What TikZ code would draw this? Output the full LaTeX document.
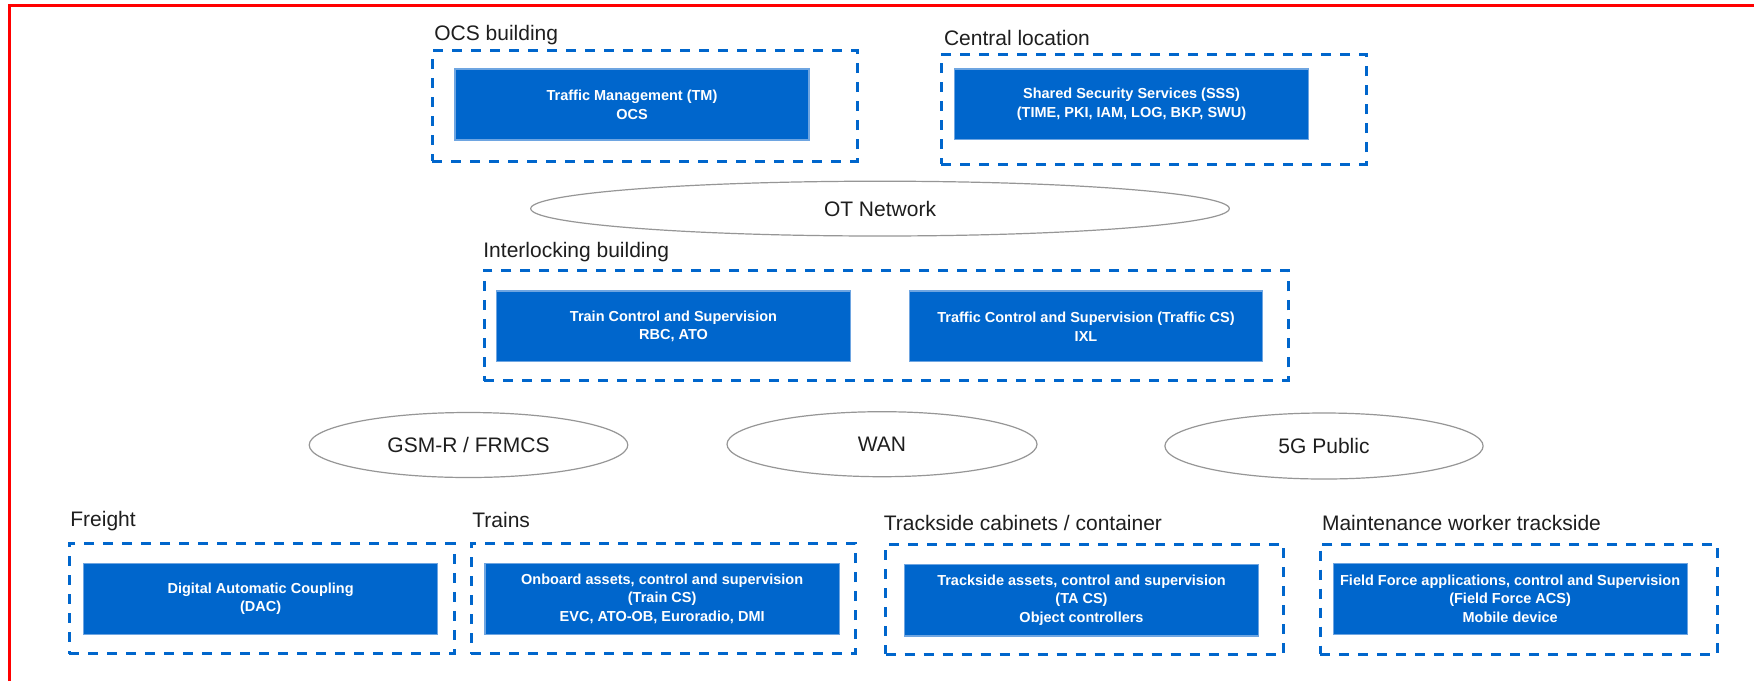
\documentclass[tikz,border=0pt]{standalone}
\usepackage{fontspec}
\setmainfont{Liberation Sans}
\usetikzlibrary{shapes.geometric}
\definecolor{boxblue}{RGB}{0,102,204}
\definecolor{boxedge}{RGB}{110,165,225}
\definecolor{zoneblue}{RGB}{0,102,204}
\definecolor{ellgray}{RGB}{150,150,150}
\definecolor{lbltext}{RGB}{30,30,30}
\begin{document}
\begin{tikzpicture}[x=0.5pt,y=-0.5pt,
  zone/.style={draw=zoneblue, line width=1.5pt, dash pattern=on 5pt off 4.5pt, inner sep=0pt, outer sep=0pt},
  bluebox/.style={fill=boxblue, draw=boxedge, line width=0.6pt, text=white, align=center, inner sep=0pt,
    font=\bfseries\fontsize{7.25}{9.4}\selectfont},
  lbl/.style={anchor=base west, inner sep=0pt, text=lbltext, font=\fontsize{10.5}{12.6}\selectfont},
  net/.style={ellipse, draw=ellgray, line width=0.6pt, fill=white, inner sep=0pt, text=lbltext,
    font=\fontsize{10.5}{12.6}\selectfont}]
\useasboundingbox (0,0) rectangle (1754,681);
\fill[white] (0,0) rectangle (1754,681);
\draw[red, line width=1.3pt] (9.7,681) -- (9.7,5.5) -- (1754,5.5);

% OCS building
\node[zone, minimum width=212.5pt, minimum height=55.25pt] (ocs) at (644.5,105.75) {};
\node[bluebox, minimum width=177pt, minimum height=35.5pt] (tm) at (632,104.5) {Traffic Management (TM)\\OCS};
\node[lbl] (ocsl) at (434,40) {OCS building};

% Central location
\node[zone, minimum width=212.5pt, minimum height=55pt] (central) at (1153.5,109) {};
\node[bluebox, minimum width=177pt, minimum height=35.2pt] (sss) at (1131.5,104.2) {Shared Security Services (SSS)\\(TIME, PKI, IAM, LOG, BKP, SWU)};
\node[lbl] (centrall) at (943.6,45.7) {Central location};

% OT network
\node[net, minimum width=349.3pt, minimum height=27.4pt] (ot) at (880,208.6) {OT Network};

% Interlocking building
\node[zone, minimum width=401.8pt, minimum height=55.35pt] (ixlzone) at (886.2,325.35) {};
\node[bluebox, minimum width=177.1pt, minimum height=35.35pt] (tcs) at (673.5,326.35) {Train Control and Supervision\\RBC, ATO};
\node[bluebox, minimum width=176.8pt, minimum height=35.35pt] (trcs) at (1086,326.35) {Traffic Control and Supervision (Traffic CS)\\IXL};
\node[lbl] (ixll) at (483,257) {Interlocking building};

% Networks
\node[net, minimum width=159.3pt, minimum height=32.5pt] (gsm) at (468.5,445) {GSM-R / FRMCS};
\node[net, minimum width=155pt, minimum height=32.5pt] (wan) at (882,444.2) {WAN};
\node[net, minimum width=159.1pt, minimum height=33pt] (g5) at (1324,446) {5G Public};

% Freight
\node[zone, minimum width=192.5pt, minimum height=55.1pt] (freight) at (261.5,598.4) {};
\node[bluebox, minimum width=176.8pt, minimum height=35.5pt] (dac) at (260.6,598.8) {Digital Automatic Coupling\\(DAC)};
\node[lbl] (freightl) at (70,526.7) {Freight};

% Trains
\node[zone, minimum width=192.25pt, minimum height=55.1pt] (trains) at (663.25,598.4) {};
\node[bluebox, minimum width=177.15pt, minimum height=35.5pt] (traincs) at (662.15,598.8) {Onboard assets, control and supervision\\(Train CS)\\EVC, ATO-OB, Euroradio, DMI};
\node[lbl] (trainsl) at (472,527) {Trains};

% Trackside
\node[zone, minimum width=198.95pt, minimum height=55pt] (trackside) at (1084.65,599) {};
\node[bluebox, minimum width=176.7pt, minimum height=35.85pt] (tacs) at (1081.5,600.15) {Trackside assets, control and supervision\\(TA CS)\\Object controllers};
\node[lbl] (tracksidel) at (883.4,530) {Trackside cabinets / container};

% Maintenance
\node[zone, minimum width=198.85pt, minimum height=55pt] (maint) at (1518.85,599) {};
\node[bluebox, minimum width=177pt, minimum height=35.5pt] (ff) at (1510.1,598.8) {Field Force applications, control and Supervision\\(Field Force ACS)\\Mobile device};
\node[lbl] (maintl) at (1321.6,530) {Maintenance worker trackside};
\end{tikzpicture}
\end{document}
